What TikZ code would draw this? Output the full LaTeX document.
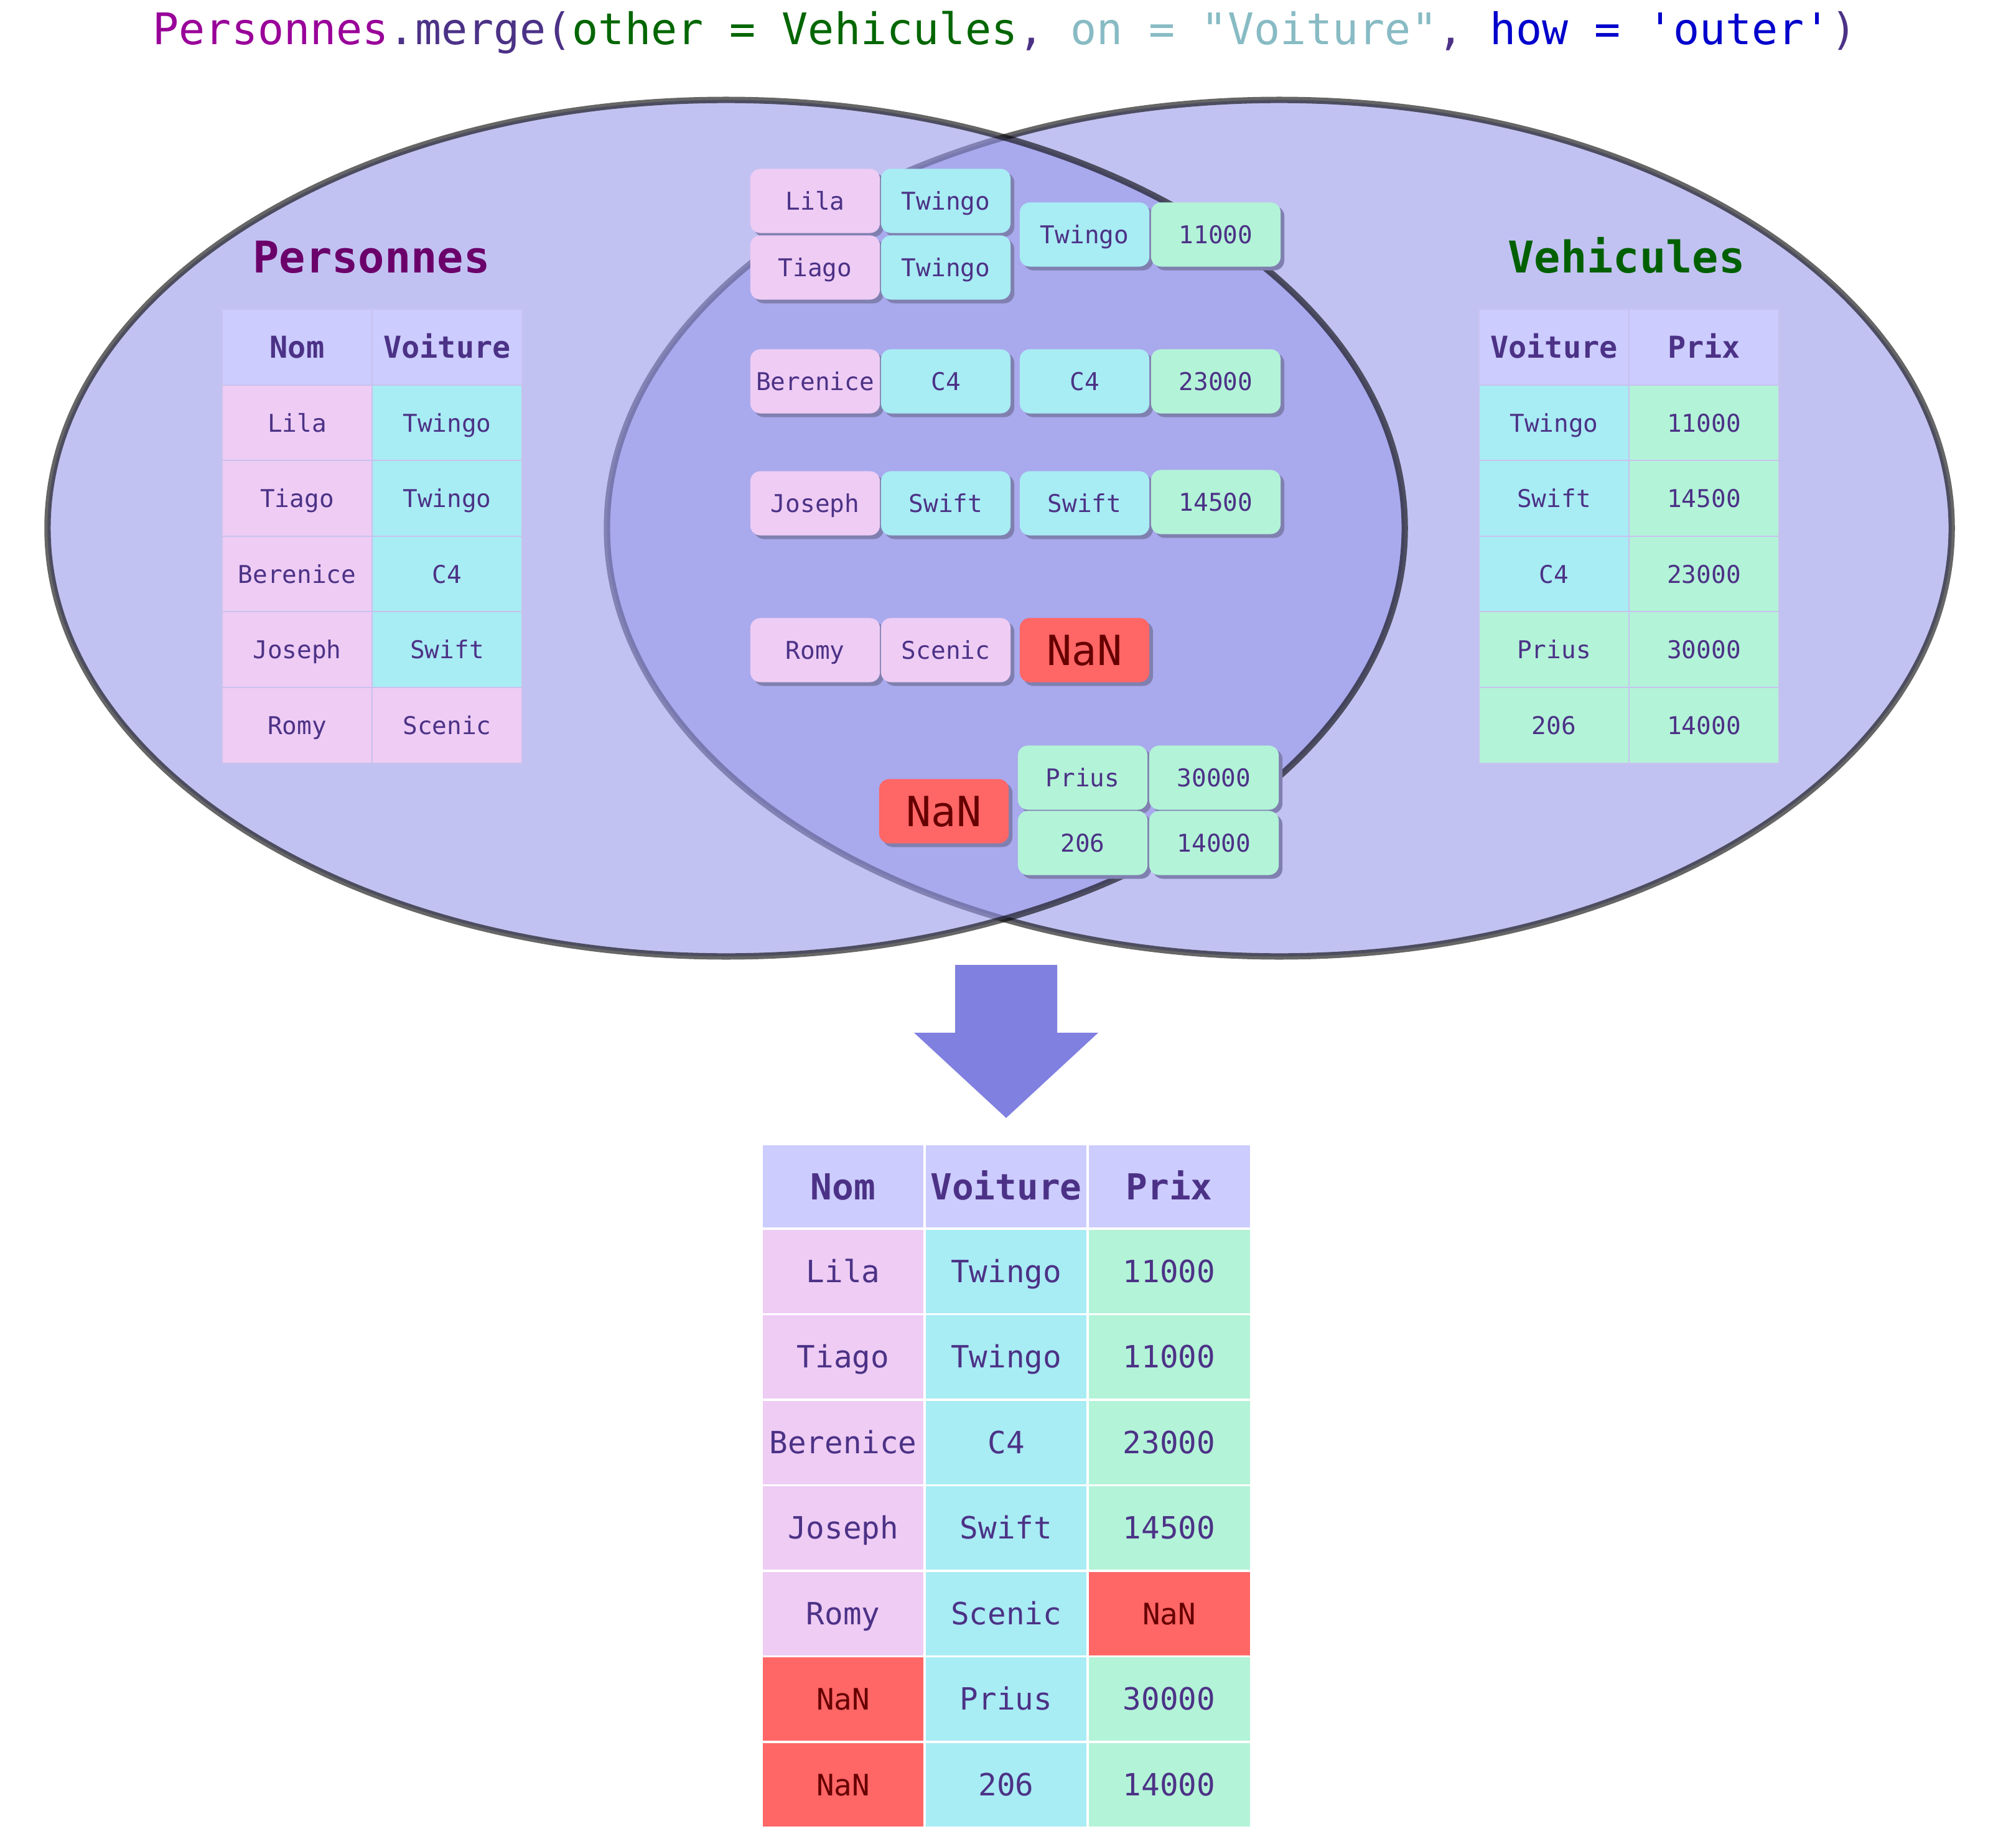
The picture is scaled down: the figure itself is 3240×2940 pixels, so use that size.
\documentclass[tikz,border=0pt]{standalone}
\usepackage{fontspec}
\setmainfont{DejaVu Sans Mono}
\usetikzlibrary{shadows}
\definecolor{txt}{RGB}{76,50,134}
\definecolor{hdr}{RGB}{204,204,255}
\definecolor{colNom}{RGB}{238,204,244}
\definecolor{colVoit}{RGB}{168,236,244}
\definecolor{colPrix}{RGB}{179,243,216}
\definecolor{colNaN}{RGB}{255,102,102}
\definecolor{nantxt}{RGB}{102,0,0}
\definecolor{vennfill}{RGB}{152,152,234}
\definecolor{shade}{RGB}{128,128,176}
\definecolor{flow}{RGB}{128,128,224}
\definecolor{grid}{RGB}{200,194,238}
\definecolor{tPers}{RGB}{153,0,153}
\definecolor{tGreen}{RGB}{0,102,0}
\definecolor{tTeal}{RGB}{136,187,196}
\definecolor{tBlue}{RGB}{0,0,204}
\definecolor{hPers}{RGB}{107,0,107}
\definecolor{hVeh}{RGB}{0,96,0}
\begin{document}
\begin{tikzpicture}[x=0.01cm, y=-0.01cm,
  venn/.style={fill=vennfill, fill opacity=0.59, draw=black, draw opacity=0.6, line width=2.9pt},
  cell/.style={minimum width=2.41cm, minimum height=1.215cm, inner sep=0pt, draw=grid, line width=0.6pt, text=txt, text height=8.2pt, text depth=0pt, font=\fontsize{11.2}{13}\selectfont},
  hcell/.style={cell, fill=hdr, text height=10pt, font=\fontsize{13.8}{16}\selectfont\bfseries},
  card/.style={rounded corners=4.5pt, minimum width=2.08cm, minimum height=1.03cm, inner sep=0pt, text=txt, text height=8.2pt, text depth=0pt, font=\fontsize{11.2}{13}\selectfont, drop shadow={shadow xshift=1.7pt, shadow yshift=-1.7pt, fill=shade, opacity=1}},
  nancard/.style={card, fill=colNaN, text=nantxt, text height=13.9pt, font=\fontsize{19}{22}\selectfont},
  rcell/.style={minimum width=2.62cm, minimum height=1.375cm, inner sep=0pt, draw=white, line width=0.9pt, text=txt, text height=10.2pt, text depth=0pt, font=\fontsize{14}{16}\selectfont},
  rhead/.style={rcell, minimum height=1.36cm, fill=hdr, text height=12pt, font=\fontsize{16.4}{19}\selectfont\bfseries},
  rnan/.style={rcell, fill=colNaN, text=nantxt, text height=9.8pt, font=\fontsize{13.5}{16}\selectfont}]
\useasboundingbox[fill=white] (0,0) rectangle (3240,2940);
\node[anchor=base, font=\fontsize{19.9}{24}\selectfont] (titre) at (1615,72) {\textcolor{tPers}{Personnes}\textcolor{txt}{.merge(}\textcolor{tGreen}{other = Vehicules}\textcolor{txt}{, }\textcolor{tTeal}{on = \textquotedbl Voiture\textquotedbl}\textcolor{txt}{, }\textcolor{tBlue}{how = \textquotesingle outer\textquotesingle}\textcolor{txt}{)}};
\draw[venn] (2056,849) ellipse [x radius=10.80cm, y radius=6.88cm];
\draw[venn] (1167,849) ellipse [x radius=10.90cm, y radius=6.88cm];
\node[anchor=base, text=hPers, font=\fontsize{20}{24}\selectfont\bfseries] (hpers) at (597,439) {Personnes};
\node[anchor=base, text=hVeh, font=\fontsize{20}{24}\selectfont\bfseries] (hveh) at (2614,439) {Vehicules};
\node[hcell] (pn0) at (477.5,558) {Nom};
\node[hcell] (pv0) at (718.5,558) {Voiture};
\node[cell, fill=colNom] (pn1) at (477.5,680) {Lila};
\node[cell, fill=colVoit] (pv1) at (718.5,680) {Twingo};
\node[cell, fill=colNom] (pn2) at (477.5,801) {Tiago};
\node[cell, fill=colVoit] (pv2) at (718.5,801) {Twingo};
\node[cell, fill=colNom] (pn3) at (477.5,923) {Berenice};
\node[cell, fill=colVoit] (pv3) at (718.5,923) {C4};
\node[cell, fill=colNom] (pn4) at (477.5,1044) {Joseph};
\node[cell, fill=colVoit] (pv4) at (718.5,1044) {Swift};
\node[cell, fill=colNom] (pn5) at (477.5,1166) {Romy};
\node[cell, fill=colNom] (pv5) at (718.5,1166) {Scenic};
\node[hcell] (vv0) at (2497.5,558) {Voiture};
\node[hcell] (vp0) at (2738.5,558) {Prix};
\node[cell, fill=colVoit] (vv1) at (2497.5,680) {Twingo};
\node[cell, fill=colPrix] (vp1) at (2738.5,680) {11000};
\node[cell, fill=colVoit] (vv2) at (2497.5,801) {Swift};
\node[cell, fill=colPrix] (vp2) at (2738.5,801) {14500};
\node[cell, fill=colVoit] (vv3) at (2497.5,923) {C4};
\node[cell, fill=colPrix] (vp3) at (2738.5,923) {23000};
\node[cell, fill=colPrix] (vv4) at (2497.5,1044) {Prius};
\node[cell, fill=colPrix] (vp4) at (2738.5,1044) {30000};
\node[cell, fill=colPrix] (vv5) at (2497.5,1166) {206};
\node[cell, fill=colPrix] (vp5) at (2738.5,1166) {14000};
\node[card, fill=colNom] (mlila) at (1310,323) {Lila};
\node[card, fill=colVoit] (mtw1) at (1520,323) {Twingo};
\node[card, fill=colNom] (mtiago) at (1310,430) {Tiago};
\node[card, fill=colVoit] (mtw2) at (1520,430) {Twingo};
\node[card, fill=colVoit] (mtw3) at (1743,377) {Twingo};
\node[card, fill=colPrix] (mp11) at (1954,377) {11000};
\node[card, fill=colNom] (mber) at (1310,613) {Berenice};
\node[card, fill=colVoit] (mc41) at (1520,613) {C4};
\node[card, fill=colVoit] (mc42) at (1743,613) {C4};
\node[card, fill=colPrix] (mp23) at (1954,613) {23000};
\node[card, fill=colNom] (mjos) at (1310,809) {Joseph};
\node[card, fill=colVoit] (msw1) at (1520,809) {Swift};
\node[card, fill=colVoit] (msw2) at (1743,809) {Swift};
\node[card, fill=colPrix] (mp145) at (1954,807) {14500};
\node[card, fill=colNom] (mromy) at (1310,1045) {Romy};
\node[card, fill=colNom] (msce) at (1520,1045) {Scenic};
\node[nancard] (mnan1) at (1743,1045) {NaN};
\node[nancard] (mnan2) at (1517,1304) {NaN};
\node[card, fill=colPrix] (mpri) at (1740,1250) {Prius};
\node[card, fill=colPrix] (mp30) at (1951,1250) {30000};
\node[card, fill=colPrix] (m206) at (1740,1355) {206};
\node[card, fill=colPrix] (mp14) at (1951,1355) {14000};
\fill[flow] (1535,1551) -- (1699,1551) -- (1699,1660) -- (1765,1660) -- (1617,1797) -- (1469,1660) -- (1535,1660) -- cycle;
\node[rhead] (rn0) at (1355,1907) {Nom};
\node[rhead] (rv0) at (1617,1907) {Voiture};
\node[rhead] (rp0) at (1879,1907) {Prix};
\node[rcell, fill=colNom] (rn1) at (1355,2044) {Lila};
\node[rcell, fill=colVoit] (rv1) at (1617,2044) {Twingo};
\node[rcell, fill=colPrix] (rp1) at (1879,2044) {11000};
\node[rcell, fill=colNom] (rn2) at (1355,2181) {Tiago};
\node[rcell, fill=colVoit] (rv2) at (1617,2181) {Twingo};
\node[rcell, fill=colPrix] (rp2) at (1879,2181) {11000};
\node[rcell, fill=colNom] (rn3) at (1355,2319) {Berenice};
\node[rcell, fill=colVoit] (rv3) at (1617,2319) {C4};
\node[rcell, fill=colPrix] (rp3) at (1879,2319) {23000};
\node[rcell, fill=colNom] (rn4) at (1355,2456) {Joseph};
\node[rcell, fill=colVoit] (rv4) at (1617,2456) {Swift};
\node[rcell, fill=colPrix] (rp4) at (1879,2456) {14500};
\node[rcell, fill=colNom] (rn5) at (1355,2594) {Romy};
\node[rcell, fill=colVoit] (rv5) at (1617,2594) {Scenic};
\node[rnan] (rp5) at (1879,2594) {NaN};
\node[rnan] (rn6) at (1355,2731) {NaN};
\node[rcell, fill=colVoit] (rv6) at (1617,2731) {Prius};
\node[rcell, fill=colPrix] (rp6) at (1879,2731) {30000};
\node[rnan] (rn7) at (1355,2869) {NaN};
\node[rcell, fill=colVoit] (rv7) at (1617,2869) {206};
\node[rcell, fill=colPrix] (rp7) at (1879,2869) {14000};
\end{tikzpicture}
\end{document}
